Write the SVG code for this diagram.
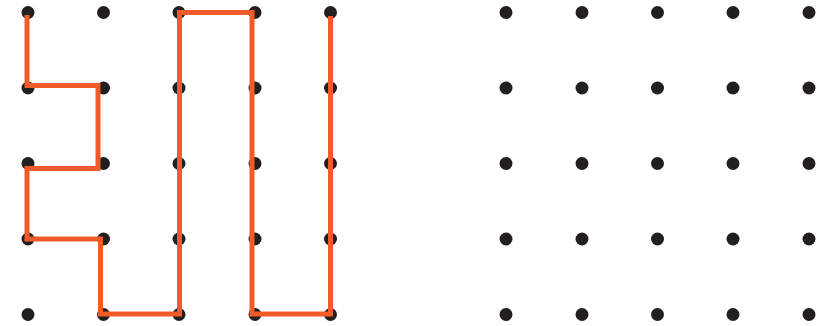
<svg xmlns="http://www.w3.org/2000/svg" width="828" height="326" viewBox="0 0 828 326">
<style>
.dot{fill:#231f20}
.path{fill:none;stroke:#f15a29;stroke-width:5;stroke-linejoin:miter;stroke-linecap:butt}
</style>
<rect width="828" height="326" fill="#ffffff"/>
<g id="left-grid" class="dot">
<circle cx="28" cy="12.5" r="6.5"/><circle cx="103.5" cy="12.5" r="6.5"/><circle cx="179" cy="12.5" r="6.5"/><circle cx="255" cy="12.5" r="6.5"/><circle cx="330.5" cy="12.5" r="6.5"/>
<circle cx="28" cy="88" r="6.5"/><circle cx="103.5" cy="88" r="6.5"/><circle cx="179" cy="88" r="6.5"/><circle cx="255" cy="88" r="6.5"/><circle cx="330.5" cy="88" r="6.5"/>
<circle cx="28" cy="163.5" r="6.5"/><circle cx="103.5" cy="163.5" r="6.5"/><circle cx="179" cy="163.5" r="6.5"/><circle cx="255" cy="163.5" r="6.5"/><circle cx="330.5" cy="163.5" r="6.5"/>
<circle cx="28" cy="239" r="6.5"/><circle cx="103.5" cy="239" r="6.5"/><circle cx="179" cy="239" r="6.5"/><circle cx="255" cy="239" r="6.5"/><circle cx="330.5" cy="239" r="6.5"/>
<circle cx="28" cy="314.5" r="6.5"/><circle cx="103.5" cy="314.5" r="6.5"/><circle cx="179" cy="314.5" r="6.5"/><circle cx="255" cy="314.5" r="6.5"/><circle cx="330.5" cy="314.5" r="6.5"/>
</g>
<g id="connectors">
<path class="path" d="M27 15 V85.5 H98 V168.5 H27 V239 H100.5 V314 H179.5 V12.5 H252 V314 H330.5 V16"/>
</g>
<g id="right-grid" class="dot">
<circle cx="506" cy="12.5" r="6.5"/><circle cx="582" cy="12.5" r="6.5"/><circle cx="657.5" cy="12.5" r="6.5"/><circle cx="733" cy="12.5" r="6.5"/><circle cx="809" cy="12.5" r="6.5"/>
<circle cx="506" cy="88" r="6.5"/><circle cx="582" cy="88" r="6.5"/><circle cx="657.5" cy="88" r="6.5"/><circle cx="733" cy="88" r="6.5"/><circle cx="809" cy="88" r="6.5"/>
<circle cx="506" cy="163.5" r="6.5"/><circle cx="582" cy="163.5" r="6.5"/><circle cx="657.5" cy="163.5" r="6.5"/><circle cx="733" cy="163.5" r="6.5"/><circle cx="809" cy="163.5" r="6.5"/>
<circle cx="506" cy="239" r="6.5"/><circle cx="582" cy="239" r="6.5"/><circle cx="657.5" cy="239" r="6.5"/><circle cx="733" cy="239" r="6.5"/><circle cx="809" cy="239" r="6.5"/>
<circle cx="506" cy="314.5" r="6.5"/><circle cx="582" cy="314.5" r="6.5"/><circle cx="657.5" cy="314.5" r="6.5"/><circle cx="733" cy="314.5" r="6.5"/><circle cx="809" cy="314.5" r="6.5"/>
</g>
</svg>
